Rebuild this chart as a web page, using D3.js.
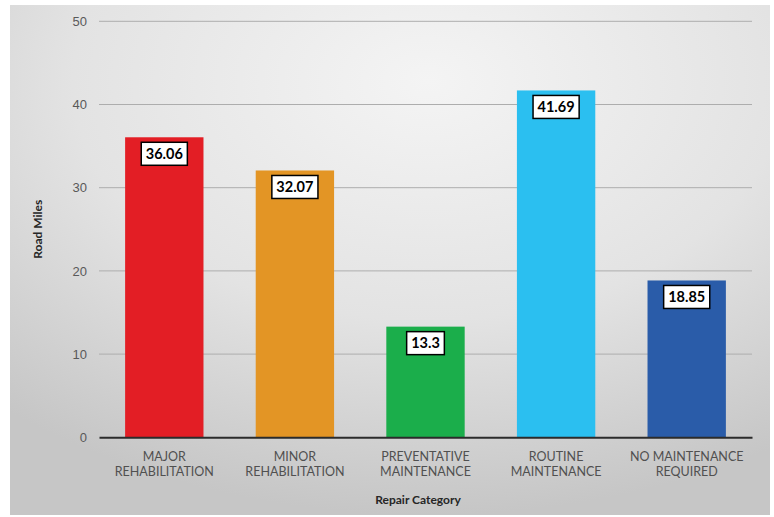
<!DOCTYPE html>
<html><head><meta charset="utf-8">
<script src="https://cdn.jsdelivr.net/npm/d3@7"></script>
<style>body{margin:0;background:#fff;}svg{display:block;font-family:Lato,"Open Sans",sans-serif;}</style>
</head><body>
<svg id="c" width="774" height="517"></svg>
<script>
const categories = [["MAJOR","REHABILITATION"],["MINOR","REHABILITATION"],["PREVENTATIVE","MAINTENANCE"],["ROUTINE","MAINTENANCE"],["NO MAINTENANCE","REQUIRED"]];
const values = [36.06, 32.07, 13.3, 41.69, 18.85];
const labels = ["36.06","32.07","13.3","41.69","18.85"];
const colors = ["#E31E25","#E39525","#1BAE4B","#2BBFF0","#2A5CA9"];
const yTicks = [0,10,20,30,40,50];

const svg = d3.select("#c");
const defs = svg.append("defs");
const g1 = defs.append("radialGradient").attr("id","bg").attr("cx","0.55").attr("cy","0.15").attr("r","0.85");
g1.append("stop").attr("offset","0").attr("stop-color","#f4f4f4");
g1.append("stop").attr("offset","0.55").attr("stop-color","#e3e3e3");
g1.append("stop").attr("offset","1").attr("stop-color","#c6c6c6");
svg.append("rect").attr("x",10).attr("y",5).attr("width",760).attr("height",510).attr("fill","url(#bg)");

const m = {l:99, r:752, t:21.3, b:437.3};
const x = d3.scaleBand().domain(d3.range(values.length)).range([m.l,m.r]).paddingInner(0.4).paddingOuter(0.2);
const y = d3.scaleLinear().domain([0,50]).range([m.b,m.t]);

// gridlines
svg.append("g").selectAll("line").data(yTicks.filter(d=>d>0)).join("line")
  .attr("x1",m.l).attr("x2",m.r).attr("y1",d=>y(d)).attr("y2",d=>y(d))
  .attr("stroke","#adadad").attr("stroke-width",1);

// y axis
const ya = svg.append("g").attr("transform",`translate(${m.l},0)`)
  .call(d3.axisLeft(y).tickValues(yTicks).tickSize(0).tickPadding(12));
ya.select(".domain").remove();
ya.selectAll("text").attr("font-size",13).attr("fill","#595959");

// bars
svg.append("g").selectAll("rect").data(values).join("rect")
  .attr("x",(d,i)=>x(i)).attr("width",x.bandwidth())
  .attr("y",d=>y(d)).attr("height",d=>y(0)-y(d))
  .attr("fill",(d,i)=>colors[i]);

// x axis line
const xa = svg.append("g").attr("transform",`translate(0,${m.b})`)
  .call(d3.axisBottom(x).tickSize(0).tickFormat(""));
xa.select(".domain").attr("stroke","#2b2b2b").attr("stroke-width",2);

// category labels
const cl = svg.append("g").selectAll("text").data(categories).join("text")
  .attr("x",(d,i)=>x(i)+x.bandwidth()/2).attr("y",m.b+24)
  .attr("text-anchor","middle").attr("font-size",12.5).attr("fill","#505050");
cl.each(function(d){
  const t = d3.select(this);
  d.forEach((s,k)=>t.append("tspan").attr("x",t.attr("x")).attr("dy",k===0?0:15).text(s));
});

// value labels
const vl = svg.append("g").selectAll("g").data(values).join("g")
  .attr("transform",(d,i)=>`translate(${x(i)+x.bandwidth()/2},${y(d)+5})`);
const vr = vl.append("rect").attr("y",0).attr("height",23).attr("fill","#fff").attr("stroke","#000").attr("stroke-width",1.5);
const vt = vl.append("text").attr("y",16.5).attr("text-anchor","middle").attr("font-size",14.5).attr("font-weight","bold")
  .attr("fill","#000").text((d,i)=>labels[i]);
vt.each(function(d,i){
  const w = this.getComputedTextLength() + 9;
  d3.select(vr.nodes()[i]).attr("x",-w/2).attr("width",w);
});

// axis titles
svg.append("text").attr("transform",`translate(42,${(m.t+m.b)/2}) rotate(-90)`)
  .attr("text-anchor","middle").attr("font-size",12).attr("font-weight","bold").attr("fill","#262626").text("Road Miles");
svg.append("text").attr("x",418).attr("y",504).attr("text-anchor","middle")
  .attr("font-size",12).attr("font-weight","bold").attr("fill","#262626").text("Repair Category");
</script>
</body></html>
